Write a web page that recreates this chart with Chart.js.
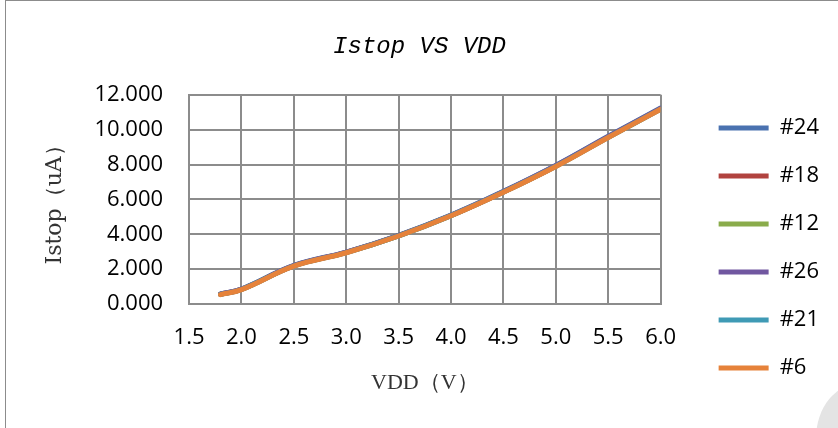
<!DOCTYPE html>
<html>
<head>
<meta charset="utf-8">
<script src="https://cdn.jsdelivr.net/npm/chart.js@4/dist/chart.umd.min.js"></script>
<style>
  html, body { margin: 0; padding: 0; background: #fff; overflow: hidden; }
  #wrap {
    position: relative; width: 838px; height: 428px;
    box-sizing: border-box; border-left: 1px solid #8c8c8c; border-top: 1px solid #8c8c8c;
    margin-left: 5px;
  }
  #blob {
    position: absolute; left: 810px; top: 382px; width: 90px; height: 110px;
    border-radius: 50%; background: #e4e4e4;
  }
</style>
</head>
<body>
<div id="wrap">
  <canvas id="istop-chart" width="833" height="427"></canvas>
  <div id="blob"></div>
</div>
<script>
// Istop vs VDD, six samples (they sit almost on top of each other)
const vdd = [1.8, 2.0, 2.5, 3.0, 3.5, 4.0, 4.5, 5.0, 5.5, 6.0];
const s24 = [0.58, 0.86, 2.21, 2.98, 3.94, 5.10, 6.46, 7.95, 9.62, 11.24];
const s18 = [0.56, 0.84, 2.19, 2.96, 3.92, 5.08, 6.43, 7.92, 9.58, 11.20];
const s12 = [0.55, 0.83, 2.18, 2.95, 3.91, 5.07, 6.42, 7.90, 9.56, 11.18];
const s26 = [0.57, 0.85, 2.20, 2.97, 3.93, 5.09, 6.45, 7.94, 9.60, 11.22];
const s21 = [0.55, 0.83, 2.18, 2.95, 3.91, 5.07, 6.42, 7.90, 9.56, 11.18];
const s6  = [0.54, 0.82, 2.17, 2.94, 3.90, 5.06, 6.41, 7.89, 9.55, 11.17];

const seriesNames = ['#24', '#18', '#12', '#26', '#21', '#6'];
const seriesData = [s24, s18, s12, s26, s21, s6];
const seriesColors = ['#4a72b0', '#b1433f', '#8aac4b', '#7157a0', '#3f9ab5', '#e6823a'];

const xTicks = [1.5, 2.0, 2.5, 3.0, 3.5, 4.0, 4.5, 5.0, 5.5, 6.0];
const yTicks = [0, 2, 4, 6, 8, 10, 12];

const datasets = seriesNames.map((name, i) => ({
    label: name,
    data: vdd.map((v, j) => ({ x: v, y: seriesData[i][j] })),
    borderColor: seriesColors[i],
    backgroundColor: seriesColors[i],
    borderWidth: 5,
    borderCapStyle: 'round',
    pointRadius: 0,
    showLine: true,
    tension: 0.4,
    fill: false,
    order: seriesNames.length - i   // last series (#6) ends up on top
}));

// legend sits in the right padding, nudged away from the plot and down
const legendShift = {
    id: 'legendShift',
    afterLayout(chart) {
        const lg = chart.legend;
        lg.left += 32; lg.right += 32;
        lg.top += 35; lg.bottom += 35;
    }
};

const tickFont = { family: '"Open Sans", sans-serif', size: 22 };

new Chart(document.getElementById('istop-chart'), {
    type: 'scatter',
    data: { datasets },
    plugins: [legendShift],
    options: {
        responsive: false,
        animation: false,
        devicePixelRatio: 1,
        layout: { padding: { left: 36, right: 42, top: 31, bottom: 34 } },
        plugins: {
            title: {
                display: true,
                text: 'Istop VS VDD',
                color: '#000',
                font: { family: '"Liberation Mono", monospace', size: 24, style: 'italic', weight: 'normal' },
                padding: { top: 0, bottom: 34 }
            },
            legend: {
                position: 'right',
                labels: {
                    color: '#000',
                    font: { family: '"Open Sans", sans-serif', size: 22 },
                    usePointStyle: true,
                    pointStyle: 'line',
                    pointStyleWidth: 50,
                    boxHeight: 22,
                    padding: 26,
                    sort: (a, b) => a.datasetIndex - b.datasetIndex
                }
            },
            tooltip: { enabled: false }
        },
        scales: {
            x: {
                type: 'linear',
                min: 1.5,
                max: 6.0,
                afterBuildTicks: axis => { axis.ticks = xTicks.map(v => ({ value: v })); },
                ticks: {
                    color: '#000',
                    font: { family: '"Open Sans", sans-serif', size: 22, lineHeight: 1 },
                    padding: 23,
                    callback: v => Number(v).toFixed(1)
                },
                grid: { color: '#8c8c8c', lineWidth: 2, drawTicks: false },
                border: { color: '#8c8c8c', width: 2 },
                title: {
                    display: true,
                    text: 'VDD（V）',
                    color: '#333',
                    font: { family: '"Liberation Serif", serif', size: 22, lineHeight: 1 },
                    padding: { top: 0, bottom: 0 }
                }
            },
            y: {
                min: 0,
                max: 12,
                afterBuildTicks: axis => { axis.ticks = yTicks.map(v => ({ value: v })); },
                ticks: {
                    color: '#000',
                    font: tickFont,
                    padding: 26,
                    callback: v => Number(v).toFixed(3)
                },
                grid: { color: '#8c8c8c', lineWidth: 2, drawTicks: false },
                border: { color: '#8c8c8c', width: 2 },
                title: {
                    display: true,
                    text: 'Istop（uA）',
                    color: '#333',
                    font: { family: '"DejaVu Serif", serif', size: 22 },
                    padding: { top: 0, bottom: 0 }
                }
            }
        }
    }
});
</script>
</body>
</html>
